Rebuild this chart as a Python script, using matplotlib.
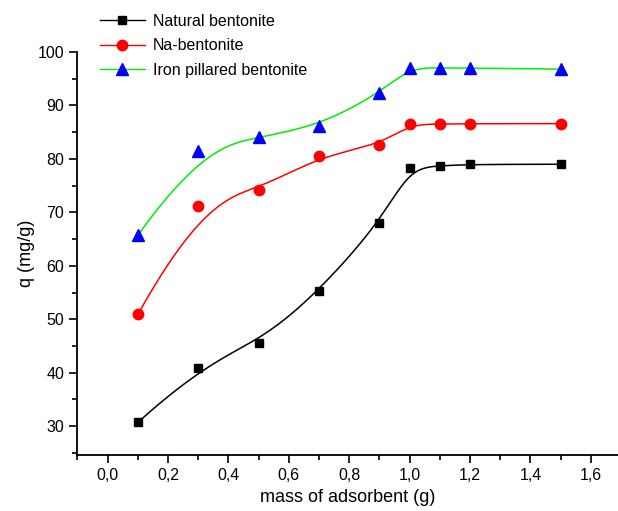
import matplotlib
matplotlib.use("Agg")
import matplotlib.pyplot as plt
from matplotlib.ticker import MultipleLocator, FuncFormatter
import numpy as np

plt.rcParams['font.family'] = ['Liberation Sans', 'DejaVu Sans']

# datos
mass = [0.1, 0.3, 0.5, 0.7, 0.9, 1.0, 1.1, 1.2, 1.5]
q_natural = [30.7, 40.9, 45.5, 55.3, 68.0, 78.3, 78.7, 79.0, 79.0]
q_na = [50.9, 71.2, 74.2, 80.5, 82.6, 86.5, 86.5, 86.6, 86.6]
q_iron = [65.7, 81.5, 84.1, 86.2, 92.3, 97.1, 97.0, 97.0, 96.8]
labels = ["Natural bentonite", "Na-bentonite", "Iron pillared bentonite"]


def bspline(px, py, n=400, k=3):
    # B-spline cubica abierta (los puntos son los puntos de control)
    px = np.asarray(px, float)
    py = np.asarray(py, float)
    m = len(px)
    knots = np.concatenate([np.zeros(k), np.linspace(0, 1, m - k + 1), np.ones(k)])
    t = np.linspace(0, 1, n)
    t[-1] = 1 - 1e-12
    N = np.zeros((n, len(knots) - 1))
    for i in range(len(knots) - 1):
        N[:, i] = (t >= knots[i]) & (t < knots[i + 1])
    for d in range(1, k + 1):
        Nn = np.zeros((n, len(knots) - 1 - d))
        for i in range(len(knots) - 1 - d):
            a = 0.0
            b = 0.0
            den1 = knots[i + d] - knots[i]
            den2 = knots[i + d + 1] - knots[i + 1]
            if den1 > 0:
                a = (t - knots[i]) / den1 * N[:, i]
            if den2 > 0:
                b = (knots[i + d + 1] - t) / den2 * N[:, i + 1]
            Nn[:, i] = a + b
        N = Nn
    return N @ px, N @ py


fig = plt.figure(figsize=(6.18, 5.11), dpi=100)
ax = fig.add_axes([0.1254, 0.1096, 0.8746, 0.7886])

series = [
    (q_natural, "black", "black", "s", 6.0),
    (q_na, "#ff0000", "#ff0000", "o", 7.5),
    (q_iron, "#00ee00", "#0000ff", "^", 8.0),
]

handles = []
for (q, lc, mc, mk, ms), lab in zip(series, labels):
    cx, cy = bspline(mass, q)
    ax.plot(cx, cy, color=lc, lw=1.1, zorder=2)
    ax.plot(mass, q, linestyle="none", marker=mk, ms=ms, color=mc, zorder=3)
    h, = ax.plot([], [], color=lc, lw=1.0, marker=mk, ms=ms, markerfacecolor=mc,
                 markeredgecolor=mc, label=lab)
    handles.append(h)

ax.set_xlim(-0.1, 1.69)
ax.set_ylim(24.6, 100)
ax.spines['top'].set_visible(False)
ax.spines['right'].set_visible(False)
for s in ['left', 'bottom']:
    ax.spines[s].set_linewidth(1.3)

ax.xaxis.set_major_locator(MultipleLocator(0.2))
ax.xaxis.set_minor_locator(MultipleLocator(0.1))
ax.yaxis.set_major_locator(MultipleLocator(10))
ax.yaxis.set_minor_locator(MultipleLocator(5))
ax.xaxis.set_major_formatter(FuncFormatter(lambda v, p: f"{v:.1f}".replace('.', ',')))
ax.yaxis.set_major_formatter(FuncFormatter(lambda v, p: f"{v:.0f}"))
ax.tick_params(which='major', direction='out', length=6, width=1.2, labelsize=11.5)
ax.tick_params(which='minor', direction='out', length=3.5, width=1.2)

ax.set_xlabel("mass of adsorbent (g)", fontsize=13, labelpad=4)
ax.set_ylabel("q (mg/g)", fontsize=13, labelpad=2)

fig.legend(handles=handles, loc='upper left', bbox_to_anchor=(100 / 618, 1 - 14 / 511),
           frameon=False, fontsize=11.5, handlelength=2.8, handletextpad=0.5,
           labelspacing=0.58, borderpad=0, borderaxespad=0)

fig.savefig("out.png", dpi=100)
